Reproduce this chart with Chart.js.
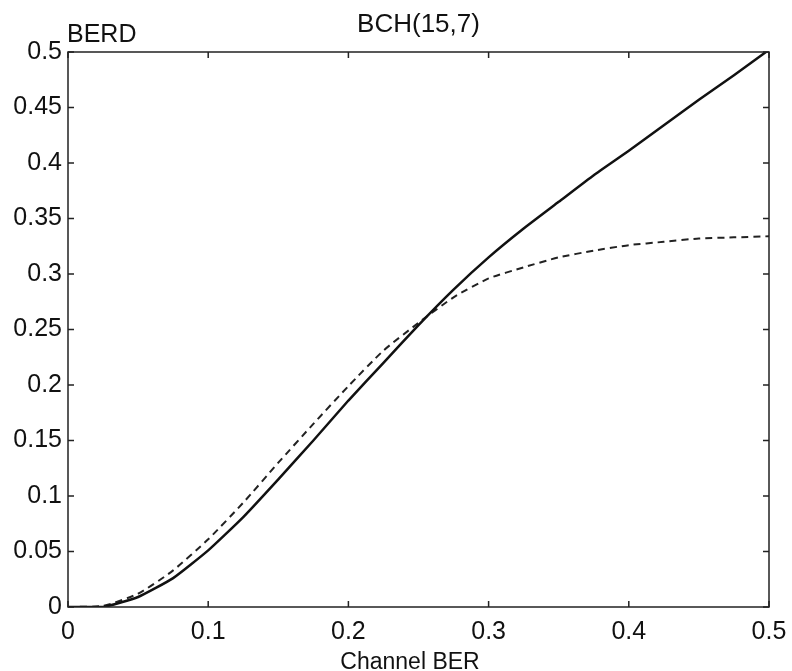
<!DOCTYPE html>
<html lang="en">
<head>
<meta charset="UTF-8">
<title>BCH(15,7)</title>
<style>
  html, body { margin: 0; padding: 0; background: #fff; }
  #wrap { width: 792px; height: 671px; }
</style>
</head>
<body>
<div id="wrap"><canvas id="chart" width="792" height="671"></canvas></div>
<script src="https://cdn.jsdelivr.net/npm/chart.js"></script>
<script>
// valeurs
const channelBer = [0, 0.025, 0.05, 0.075, 0.1, 0.125, 0.15, 0.175, 0.2, 0.225, 0.25,
                    0.275, 0.3, 0.325, 0.35, 0.375, 0.4, 0.425, 0.45, 0.475, 0.5];
const berdSolid  = [0, 0, 0.009, 0.026, 0.051, 0.081, 0.115, 0.150, 0.186, 0.220, 0.254,
                    0.286, 0.315, 0.341, 0.365, 0.389, 0.411, 0.434, 0.457, 0.479, 0.502];
const berdDashed = [0, 0.001, 0.012, 0.033, 0.061, 0.094, 0.130, 0.165, 0.199, 0.231, 0.256,
                    0.279, 0.296, 0.306, 0.315, 0.321, 0.326, 0.329, 0.332, 0.333, 0.334];
const xTicks = [0, 0.1, 0.2, 0.3, 0.4, 0.5];
const yTicks = [0, 0.05, 0.1, 0.15, 0.2, 0.25, 0.3, 0.35, 0.4, 0.45, 0.5];
const titleText = 'BCH(15,7)';
const yLabel = 'BERD';
const xLabel = 'Channel BER';

const FONT = '"Liberation Sans", Arial, sans-serif';

function pts(ys) {
  return channelBer.map((x, i) => ({ x: x, y: ys[i] }));
}

// cadre + graduations vers l'intérieur (style MATLAB)
const boxPlugin = {
  id: 'box',
  afterDatasetsDraw(chart) {
    const { ctx, chartArea: a, scales } = chart;
    const len = 6;
    ctx.save();
    ctx.strokeStyle = '#222';
    ctx.lineWidth = 1.5;
    ctx.strokeRect(a.left, a.top, a.right - a.left, a.bottom - a.top);
    ctx.beginPath();
    xTicks.forEach(v => {
      const px = scales.x.getPixelForValue(v);
      ctx.moveTo(px, a.bottom); ctx.lineTo(px, a.bottom - len);
      ctx.moveTo(px, a.top); ctx.lineTo(px, a.top + len);
    });
    yTicks.forEach(v => {
      const py = scales.y.getPixelForValue(v);
      ctx.moveTo(a.left, py); ctx.lineTo(a.left + len, py);
      ctx.moveTo(a.right, py); ctx.lineTo(a.right - len, py);
    });
    ctx.stroke();
    ctx.restore();
  },
  afterDraw(chart) {
    const { ctx, chartArea: a } = chart;
    ctx.save();
    ctx.fillStyle = '#111';
    ctx.textBaseline = 'alphabetic';
    ctx.font = '26px ' + FONT;
    ctx.textAlign = 'center';
    ctx.fillText(titleText, (a.left + a.right) / 2, 32);
    ctx.font = '25px ' + FONT;
    ctx.textAlign = 'left';
    ctx.fillText(yLabel, a.left - 1, 42);
    ctx.font = '23px ' + FONT;
    ctx.textAlign = 'center';
    ctx.fillText(xLabel, 410, 669);
    ctx.restore();
  }
};

new Chart(document.getElementById('chart'), {
  type: 'line',
  data: {
    datasets: [
      {
        label: 'solid',
        data: pts(berdSolid),
        borderColor: '#111',
        borderWidth: 2.5,
        pointRadius: 0,
        tension: 0.15
      },
      {
        label: 'dashed',
        data: pts(berdDashed),
        borderColor: '#222',
        borderWidth: 2,
        borderDash: [7, 5],
        pointRadius: 0,
        tension: 0.2
      }
    ]
  },
  options: {
    responsive: false,
    devicePixelRatio: 1,
    animation: false,
    layout: { padding: { left: 0, right: 23, top: 52, bottom: 0 } },
    plugins: { legend: { display: false }, tooltip: { enabled: false }, title: { display: false } },
    scales: {
      x: {
        type: 'linear',
        min: 0, max: 0.5,
        afterBuildTicks: s => { s.ticks = xTicks.map(v => ({ value: v })); },
        afterFit: s => { s.height = 64; s.paddingLeft = 0; s.paddingRight = 0; },
        grid: { display: false, drawTicks: false },
        border: { display: false },
        ticks: {
          padding: 10,
          color: '#111',
          font: { family: FONT, size: 25 },
          maxRotation: 0,
          callback: v => String(+v.toFixed(2))
        }
      },
      y: {
        min: 0, max: 0.5,
        afterBuildTicks: s => { s.ticks = yTicks.map(v => ({ value: v })); },
        afterFit: s => { s.width = 68; s.paddingTop = 0; s.paddingBottom = 0; },
        grid: { display: false, drawTicks: false },
        border: { display: false },
        ticks: {
          padding: 6,
          color: '#111',
          font: { family: FONT, size: 25 },
          callback: v => String(+v.toFixed(2))
        }
      }
    }
  },
  plugins: [boxPlugin]
});
</script>
</body>
</html>
